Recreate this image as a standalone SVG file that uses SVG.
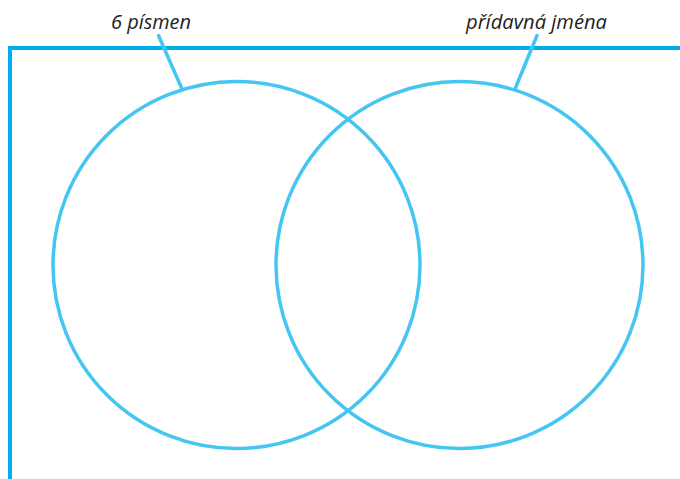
<svg xmlns="http://www.w3.org/2000/svg" width="680" height="479" viewBox="0 0 680 479">
  <style>
    .frame { fill: none; stroke: #00AEEF; stroke-width: 4; }
    .set { fill: none; stroke: #45C6F2; stroke-width: 3.5; }
    .leader { fill: none; stroke: #45C6F2; stroke-width: 3.5; stroke-linecap: round; }
    .label { font-family: "Open Sans", "Noto Sans", sans-serif; font-style: italic; font-weight: 400; font-size: 20px; fill: #222222; }
  </style>
  <rect width="680" height="479" fill="#ffffff"/>
  <!-- frame -->
  <path class="frame" d="M10,479 V48 H680"/>
  <!-- Venn sets -->
  <g id="set-six-letters">
    <circle class="set" cx="236.5" cy="265" r="183.5"/>
  </g>
  <g id="set-adjectives">
    <circle class="set" cx="459.5" cy="265" r="183.5"/>
  </g>
  <!-- leader lines from labels to sets -->
  <g id="connectors">
    <line class="leader" x1="158.5" y1="35.5" x2="182" y2="89"/>
    <line class="leader" x1="537" y1="35.5" x2="515" y2="89"/>
  </g>
  <g id="label-six-letters">
    <text class="label" x="111" y="29" textLength="80" lengthAdjust="spacingAndGlyphs">6 písmen</text>
  </g>
  <g id="label-adjectives">
    <text class="label" x="466" y="29" textLength="141" lengthAdjust="spacingAndGlyphs">přídavná jména</text>
  </g>
</svg>
